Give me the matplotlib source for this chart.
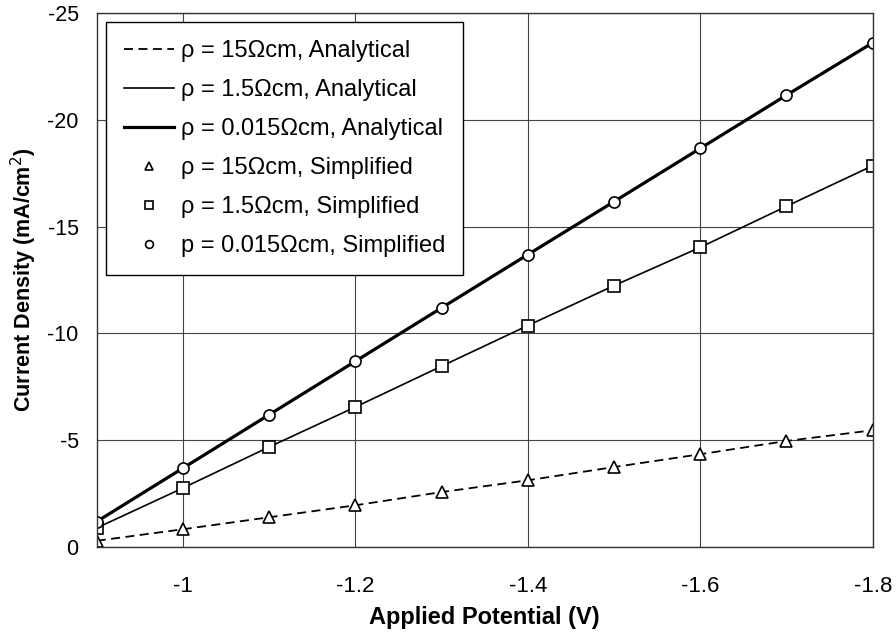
import matplotlib
matplotlib.use('Agg')
import matplotlib.pyplot as plt

plt.rcParams['font.family'] = ['Liberation Sans', 'DejaVu Sans']
plt.rcParams['axes.unicode_minus'] = False

potential = [-0.9, -1.0, -1.1, -1.2, -1.3, -1.4, -1.5, -1.6, -1.7, -1.8]
j_15 = [-0.3, -0.84, -1.4, -1.96, -2.58, -3.13, -3.75, -4.35, -4.97, -5.47]
j_1p5 = [-0.9, -2.77, -4.69, -6.56, -8.47, -10.37, -12.24, -14.03, -15.95, -17.85]
j_0p015 = [-1.2, -3.7, -6.2, -8.7, -11.2, -13.69, -16.17, -18.66, -21.15, -23.6]

xticks = [-1, -1.2, -1.4, -1.6, -1.8]
yticks = [0, -5, -10, -15, -20, -25]

fig = plt.figure(figsize=(8.96, 6.43), dpi=100)
ax = fig.add_axes([0.108, 0.149, 0.866, 0.831])

ax.plot(potential, j_15, '--', color='black', lw=1.3, dashes=(5, 3),
        label='ρ = 15Ωcm, Analytical')
ax.plot(potential, j_1p5, '-', color='black', lw=1.2,
        label='ρ = 1.5Ωcm, Analytical')
ax.plot(potential, j_0p015, '-', color='black', lw=2.3,
        label='ρ = 0.015Ωcm, Analytical')
ax.plot(potential, j_15, '^', ms=8, mfc='white', mec='black', mew=1.2, ls='none',
        label='ρ = 15Ωcm, Simplified')
ax.plot(potential, j_1p5, 's', ms=8, mfc='white', mec='black', mew=1.2, ls='none',
        label='ρ = 1.5Ωcm, Simplified')
ax.plot(potential, j_0p015, 'o', ms=8, mfc='white', mec='black', mew=1.2, ls='none',
        label='p = 0.015Ωcm, Simplified')

ax.set_xlim(-0.9, -1.8)
ax.set_ylim(0, -25)
ax.set_xticks(xticks)
ax.set_xticklabels([str(t) for t in xticks])
ax.set_yticks(yticks)
ax.tick_params(length=0)
ax.tick_params(axis='x', labelsize=16, pad=21)
ax.tick_params(axis='y', labelsize=15.5, pad=13)
ax.grid(True, color='#444444', lw=0.8)
ax.set_axisbelow(True)
for s in ax.spines.values():
    s.set_color('#333333')
    s.set_linewidth(1.0)

ax.set_xlabel('Applied Potential (V)', fontsize=17, fontweight='bold', labelpad=6)
ax.set_ylabel('Current Density (mA/cm$^2$)', fontsize=15.5, fontweight='bold', labelpad=6)

leg = ax.legend(loc='upper left', bbox_to_anchor=(0.0, 1.0), borderaxespad=0.4,
                fontsize=17, frameon=True, fancybox=False, framealpha=1,
                edgecolor='black', handlelength=2.1, handletextpad=0.3,
                labelspacing=0.72, borderpad=0.75, markerscale=0.7)
leg.get_frame().set_linewidth(1.0)

fig.savefig('out.png', dpi=100)
